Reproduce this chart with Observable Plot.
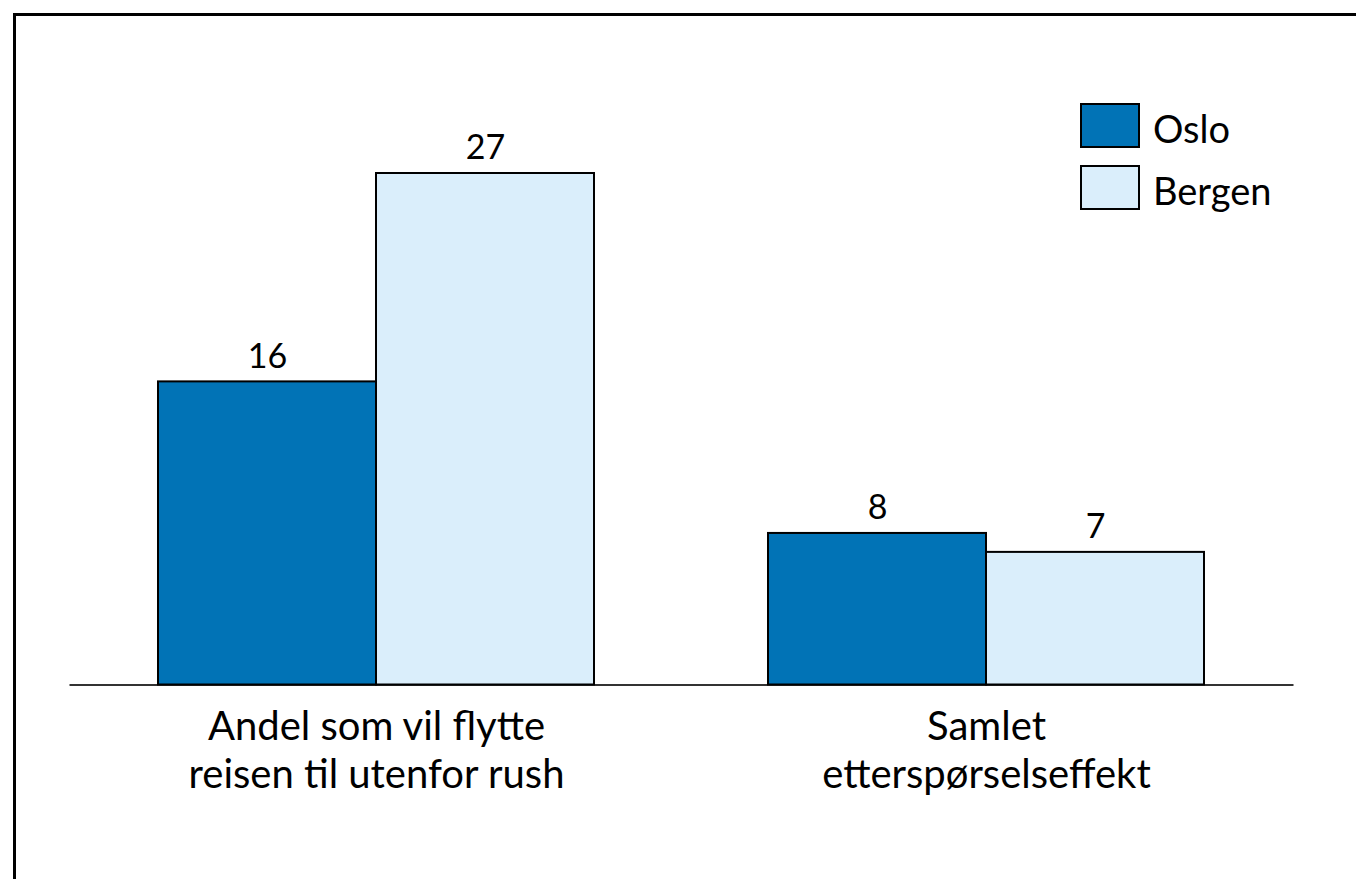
<!DOCTYPE html>
<html><head><meta charset="utf-8">
<script src="https://cdn.jsdelivr.net/npm/d3@7"></script>
<script src="https://cdn.jsdelivr.net/npm/@observablehq/plot@0.6"></script>
<style>
body{margin:0;background:#fff;}
#wrap{position:relative;width:1356px;height:879px;overflow:hidden;background:#fff;font-family:Lato,"Open Sans",sans-serif;}
#frame{position:absolute;left:13px;top:13px;width:1400px;height:900px;border-left:3px solid #000;border-top:3px solid #000;box-sizing:border-box;}
#chart{position:absolute;left:0;top:0;}
.lg{position:absolute;left:1080px;display:flex;align-items:center;font-size:38px;color:#000;}
.sw{width:60px;height:45px;box-sizing:border-box;border:2px solid #000;margin-right:13px;}
</style></head>
<body><div id="wrap"><div id="frame"></div><div id="chart"></div><div id="legend"></div></div>
<script>
const categories = ["Andel som vil flytte\nreisen til utenfor rush", "Samlet\netterspørselseffekt"];
const series = ["Oslo", "Bergen"];
const osloValues = [16, 8];
const bergenValues = [27, 7];
const colors = ["#0173b6", "#daeefb"];

const data = categories.flatMap((c, i) => [
  {category: c, city: "Oslo", value: osloValues[i]},
  {category: c, city: "Bergen", value: bergenValues[i]}
]);

const fontFamily = "Lato, 'Open Sans', sans-serif";
const chart = Plot.plot({
  width: 1356, height: 879,
  marginLeft: 70, marginRight: 64, marginTop: 173, marginBottom: 194.5,
  fx: {domain: categories, paddingInner: 0.285, paddingOuter: 0.144, axis: null},
  x: {domain: series, padding: 0, axis: null},
  y: {domain: [0, 27], axis: null},
  color: {domain: series, range: colors},
  style: {fontFamily, background: "transparent", color: "#000"},
  marks: [
    Plot.frame({anchor: "bottom", facet: "super", insetLeft: -88, insetRight: -88, stroke: "#333", strokeWidth: 2}),
    Plot.barY(data, {fx: "category", x: "city", y: "value", fill: "city", stroke: "#000", strokeWidth: 2}),
    Plot.text(data, {fx: "category", x: "city", y: "value", text: d => String(d.value), dy: -25, fontSize: 34, fill: "#000"}),
    Plot.text(categories, {fx: d => d, text: d => d, frameAnchor: "bottom", lineAnchor: "top", dy: 20, fontSize: 40, lineHeight: 1.22, fill: "#000"})
  ]
});
document.getElementById("chart").appendChild(chart);

const legend = document.getElementById("legend");
series.forEach((s, i) => {
  const row = document.createElement("div");
  row.className = "lg";
  row.style.top = (103 + i * 62) + "px";
  row.style.height = "45px";
  const sw = document.createElement("div");
  sw.className = "sw";
  sw.style.background = colors[i];
  const t = document.createElement("span");
  t.textContent = s;
  t.style.marginTop = "4px";
  row.appendChild(sw); row.appendChild(t);
  legend.appendChild(row);
});
</script></body></html>
